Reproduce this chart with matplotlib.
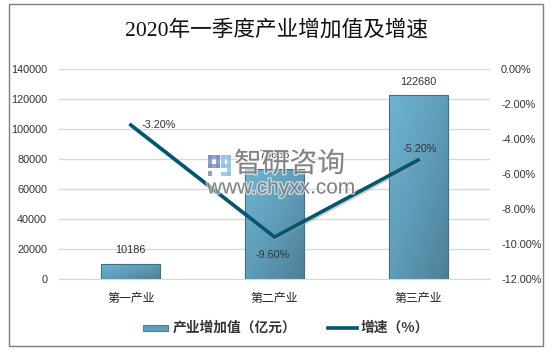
import numpy as np
import matplotlib
matplotlib.use("Agg")
from matplotlib import pyplot as plt
from matplotlib import patheffects as pe
from matplotlib.colors import LinearSegmentedColormap
from matplotlib.patches import Rectangle
from matplotlib.lines import Line2D

plt.rcParams['font.family'] = ['Noto Sans CJK SC', 'DejaVu Sans']

W, H = 552, 352

categories = ["第一产业", "第二产业", "第三产业"]
values = [10186, 73638, 122680]
growth = [-3.20, -9.60, -5.20]
left_ticks = [0, 20000, 40000, 60000, 80000, 100000, 120000, 140000]
right_ticks = [0, -2, -4, -6, -8, -10, -12]

TEXT = "#333333"
NUM_FONT = ['Liberation Sans']
LINE = "#03566f"
grad = LinearSegmentedColormap.from_list("bar", ["#6fb4d2", "#5f9db9", "#4f7f97"])


def px(x, y):
    # reference pixels to figure fraction
    return x / W, 1 - y / H


fig = plt.figure(figsize=(W / 100, H / 100), dpi=100, facecolor="white")
fig.add_artist(Rectangle(px(9, 346), 534 / W, 342 / H, transform=fig.transFigure,
                         fill=False, edgecolor="#7f7f7f", linewidth=1))

ax = fig.add_axes([59 / W, 1 - 279 / H, 431 / W, 210 / H])
x = np.arange(len(categories))
bars = ax.bar(x, values, width=0.41, color="none", edgecolor="#3f6f85", linewidth=0.8, zorder=3)

# diagonal gradient fill, clipped to each bar
gx, gy = np.meshgrid(np.linspace(0, 1, 60), np.linspace(0, 1, 60))
for b in bars:
    x0, y0 = b.get_x(), b.get_y()
    im = ax.imshow((gx + (1 - gy)) / 2, origin="lower", cmap=grad, aspect="auto", zorder=2,
                   extent=[x0, x0 + b.get_width(), y0, y0 + b.get_height()])
    im.set_clip_path(Rectangle((x0, y0), b.get_width(), b.get_height(), transform=ax.transData))

ax.set_xlim(-0.5, 2.5)
ax.set_ylim(0, 140000)
ax.set_yticks(left_ticks)
ax.set_yticklabels([str(t) for t in left_ticks], fontsize=7.8, color=TEXT, family=NUM_FONT)
ax.set_xticks(x)
ax.set_xticklabels(categories, fontsize=8.6, color="#222222")
ax.tick_params(length=0)
ax.tick_params(axis="x", pad=9)
ax.tick_params(axis="y", pad=8.5)
ax.grid(axis="y", color="#d9d9d9", linewidth=1, zorder=0)
ax.set_axisbelow(True)
for s in ax.spines.values():
    s.set_visible(False)
ax.spines["bottom"].set_visible(True)
ax.spines["bottom"].set_color("#d9d9d9")

for xi, v in zip(x, values):
    ax.annotate(str(v), (xi, v), xytext=(0, 6), textcoords="offset points", ha="center", va="bottom",
                fontsize=7.8, color=TEXT, family=NUM_FONT, zorder=2.5)

ax2 = ax.twinx()
ax2.set_ylim(-12, 0)
ax2.set_yticks(right_ticks)
ax2.set_yticklabels([f"{t:.2f}%" for t in right_ticks], fontsize=7.8, color=TEXT, family=NUM_FONT, ha="left")
ax2.tick_params(length=0, pad=8)
for s in ax2.spines.values():
    s.set_visible(False)
# soft shadow then the line
ax2.plot(x + 0.008, np.array(growth) - 0.09, color="#9a9a9a", linewidth=2.6, alpha=0.5,
         solid_joinstyle="miter", zorder=3)
ax2.plot(x, growth, color=LINE, linewidth=2.6, solid_joinstyle="miter", zorder=4)

growth_offsets = [(20, 0), (-1.5, -13), (1, 8)]
for xi, g, off in zip(x, growth, growth_offsets):
    ax2.annotate(f"{g:.2f}%", (xi, g), xytext=off, textcoords="offset points", ha="center", va="center",
                 fontsize=7.8, color=TEXT, family=NUM_FONT, zorder=5)

fig.text(*px(276, 30), "2020年一季度产业增加值及增速", ha="center", va="center", fontsize=15.6,
         family=['Liberation Serif', 'Noto Sans CJK SC'], color="#111111")

# legend
fig.add_artist(Rectangle(px(143, 331), 25 / W, 6 / H, transform=fig.transFigure,
                         facecolor="#5f9db9", edgecolor="#4f7f97", linewidth=0.8))
fig.text(*px(173, 328), "产业增加值（亿元）", ha="left", va="center", fontsize=9.9, color=TEXT, fontweight="bold")
fig.add_artist(Line2D([328 / W, 357 / W], [1 - 328 / H, 1 - 328 / H], transform=fig.transFigure,
                      color=LINE, linewidth=2.6))
fig.text(*px(361, 328), "增速（%）", ha="left", va="center", fontsize=9.9, color=TEXT, fontweight="bold")

# watermark
halo = [pe.withStroke(linewidth=2, foreground="white", alpha=0.6)]
fig.text(*px(234, 164), "智研咨询", ha="left", va="center", fontsize=20, color="#6d6d6d", alpha=0.8,
         zorder=10, path_effects=halo)
fig.text(*px(207, 188), "www.chyxx.com", ha="left", va="center", fontsize=15, color="#6d6d6d", alpha=0.8,
         family=['Liberation Sans'], zorder=10, path_effects=halo)
logo_left = [(208, 155, 12, 4), (208, 155, 4, 13), (208, 164, 12, 4), (216, 155, 4, 13), (208, 171, 4, 5)]
logo_right = [(221, 155, 4, 13), (221, 155, 10, 4), (227, 155, 4, 21), (221, 164, 10, 4), (221, 172, 10, 4)]
for rects, col in [(logo_left, "#7f8fc0"), (logo_right, "#8fc3e6")]:
    for rx, ry, rw, rh in rects:
        fig.add_artist(Rectangle(px(rx, ry + rh), rw / W, rh / H, transform=fig.transFigure,
                                 facecolor=col, edgecolor="none", alpha=0.85, zorder=10))

fig.savefig("out.png", dpi=100)
